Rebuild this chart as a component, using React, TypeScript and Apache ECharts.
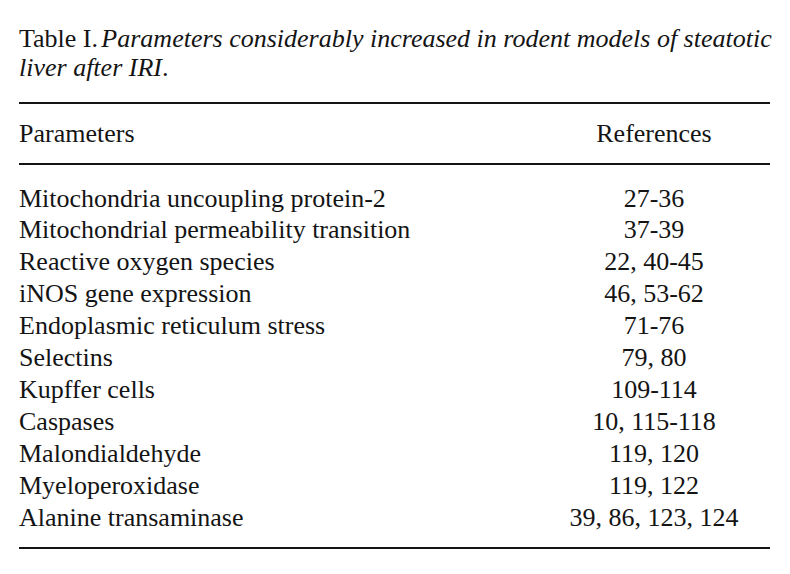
import React, { useEffect, useRef } from "react";
import * as echarts from "echarts";

const titleLabel = "Table I.";
const titleLine1 = "Parameters considerably increased in rodent models of steatotic";
const titleLine2 = "liver after IRI";
const headerLeft = "Parameters";
const headerRight = "References";
const parameters = [
  "Mitochondria uncoupling protein-2",
  "Mitochondrial permeability transition",
  "Reactive oxygen species",
  "iNOS gene expression",
  "Endoplasmic reticulum stress",
  "Selectins",
  "Kupffer cells",
  "Caspases",
  "Malondialdehyde",
  "Myeloperoxidase",
  "Alanine transaminase",
];
const references = [
  "27-36",
  "37-39",
  "22, 40-45",
  "46, 53-62",
  "71-76",
  "79, 80",
  "109-114",
  "10, 115-118",
  "119, 120",
  "119, 122",
  "39, 86, 123, 124",
];

const FONT = "'Liberation Serif', 'Times New Roman', serif";
const FS = 26;
const COLOR = "#141414";

export default function App() {
  const ref = useRef<HTMLDivElement>(null);
  useEffect(() => {
    if (!ref.current) return;
    const chart = echarts.init(ref.current, undefined, { renderer: "svg" });
    const left = 19;
    const right = 770;
    const refX = 654;
    const rowY0 = 198;
    const rowStep = 31.9;
    const elements: any[] = [];
    elements.push({
      type: "text",
      x: left,
      y: 38,
      style: {
        text: `{a|${titleLabel}} {b|${titleLine1}}`,
        verticalAlign: "middle",
        rich: {
          a: { fontFamily: FONT, fontSize: FS, fill: COLOR },
          b: { fontFamily: FONT, fontSize: FS, fill: COLOR, fontStyle: "italic" },
        },
      },
    });
    elements.push({
      type: "text",
      x: left,
      y: 67,
      style: {
        text: `{b|${titleLine2}}{a|.}`,
        verticalAlign: "middle",
        rich: {
          a: { fontFamily: FONT, fontSize: FS, fill: COLOR },
          b: { fontFamily: FONT, fontSize: FS, fill: COLOR, fontStyle: "italic" },
        },
      },
    });
    [103, 164, 548].forEach((y) => {
      elements.push({
        type: "line",
        shape: { x1: left, y1: y, x2: right, y2: y },
        style: { stroke: COLOR, lineWidth: 2 },
      });
    });
    elements.push({
      type: "text",
      x: left,
      y: 133.5,
      style: { text: headerLeft, font: `${FS}px ${FONT}`, fill: COLOR, verticalAlign: "middle" },
    });
    elements.push({
      type: "text",
      x: refX,
      y: 133.5,
      style: { text: headerRight, font: `${FS}px ${FONT}`, fill: COLOR, align: "center", verticalAlign: "middle" },
    });
    parameters.forEach((p, i) => {
      const y = rowY0 + i * rowStep;
      elements.push({
        type: "text",
        x: left,
        y,
        style: { text: p, font: `${FS}px ${FONT}`, fill: COLOR, verticalAlign: "middle" },
      });
      elements.push({
        type: "text",
        x: refX,
        y,
        style: { text: references[i], font: `${FS}px ${FONT}`, fill: COLOR, align: "center", verticalAlign: "middle" },
      });
    });
    chart.setOption({
      animation: false,
      backgroundColor: "#ffffff",
      graphic: { elements },
    });
    return () => chart.dispose();
  }, []);
  return <div ref={ref} style={{ width: 790, height: 574, position: "absolute", left: 0, top: 0 }} />;
}
